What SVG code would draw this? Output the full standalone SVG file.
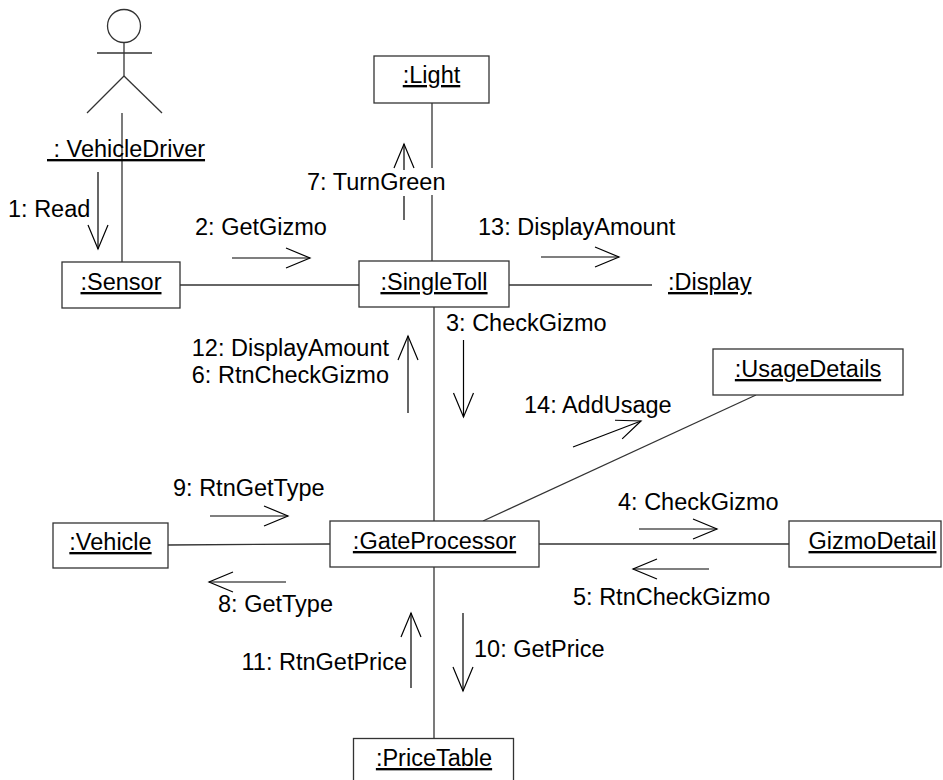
<svg xmlns="http://www.w3.org/2000/svg" width="943" height="780" viewBox="0 0 943 780">
<style>
text{font-family:"Liberation Sans",Arial,sans-serif;font-size:23.5px;fill:#000}
.u{text-decoration:underline}
.box{fill:#fff;stroke:#333;stroke-width:1.3}
.ln{stroke:#333;stroke-width:1.3;fill:none}
.ar{stroke:#000;stroke-width:1.2;fill:none}
.arm{stroke:#000;stroke-width:1.2;fill:none;marker-end:url(#open)}
</style>
<defs>
<marker id="open" markerUnits="userSpaceOnUse" markerWidth="28" markerHeight="24" refX="24" refY="10" orient="auto" overflow="visible">
<path d="M0,0 L24,10 L0,20" fill="none" stroke="#000" stroke-width="1.2"/>
</marker>
</defs>
<rect width="943" height="780" fill="#fff"/>

<g id="connectors">
<line class="ln" x1="122" y1="113" x2="122" y2="262"/>
<line class="ln" x1="180" y1="285" x2="359" y2="285"/>
<line class="ln" x1="432" y1="103" x2="432" y2="168"/>
<line class="ln" x1="432" y1="195" x2="432" y2="261"/>
<line class="ln" x1="509" y1="285" x2="652" y2="285"/>
<line class="ln" x1="434" y1="307" x2="434" y2="521"/>
<line class="ln" x1="168" y1="545" x2="330" y2="544"/>
<line class="ln" x1="756" y1="395" x2="483" y2="521"/>
<line class="ln" x1="539" y1="544" x2="789" y2="544"/>
<line class="ln" x1="434" y1="567" x2="434" y2="738"/>
</g>

<g id="actor-VehicleDriver">
<circle cx="124" cy="26" r="16.5" fill="none" stroke="#333" stroke-width="1.3"/>
<line class="ln" x1="124" y1="42.5" x2="124" y2="76"/>
<line class="ln" x1="97" y1="53" x2="152" y2="53"/>
<line class="ln" x1="124" y1="76" x2="87" y2="113"/>
<line class="ln" x1="124" y1="76" x2="162" y2="113"/>
<text x="47" y="157" class="u" xml:space="preserve" style="white-space:pre"> : VehicleDriver</text>
</g>

<g id="node-Sensor">
<rect class="box" x="62" y="262" width="118" height="46"/>
<text x="121" y="290" class="u" text-anchor="middle">:Sensor</text>
</g>

<g id="node-Light">
<rect class="box" x="374" y="56" width="115" height="47"/>
<text x="431.5" y="83" class="u" text-anchor="middle">:Light</text>
</g>

<g id="node-SingleToll">
<rect class="box" x="359" y="261" width="150" height="46"/>
<text x="434" y="290" class="u" text-anchor="middle">:SingleToll</text>
</g>

<g id="node-Display">
<text x="668" y="290" class="u">:Display</text>
</g>

<g id="node-UsageDetails">
<rect class="box" x="713" y="349" width="190" height="46"/>
<text x="808" y="377" class="u" text-anchor="middle">:UsageDetails</text>
</g>

<g id="node-Vehicle">
<rect class="box" x="53" y="523" width="115" height="45"/>
<text x="110.5" y="550" class="u" text-anchor="middle">:Vehicle</text>
</g>

<g id="node-GateProcessor">
<rect class="box" x="330" y="521" width="209" height="46"/>
<text x="434.5" y="549" class="u" text-anchor="middle">:GateProcessor</text>
</g>

<g id="node-GizmoDetail">
<rect class="box" x="789" y="521" width="152" height="46"/>
<text x="872.5" y="549" class="u" text-anchor="middle">GizmoDetail</text>
</g>

<g id="node-PriceTable">
<rect class="box" x="353.5" y="738.5" width="160" height="50"/>
<text x="434" y="766" class="u" text-anchor="middle">:PriceTable</text>
</g>

<g id="messages">
<text x="8" y="217">1: Read</text>
<line class="arm" x1="98" y1="172" x2="98" y2="249"/>

<text x="195" y="235">2: GetGizmo</text>
<line class="arm" x1="232" y1="258" x2="310" y2="258"/>

<text x="307" y="190">7: TurnGreen</text>
<line class="ar" x1="404" y1="220" x2="404" y2="196"/>
<line class="arm" x1="404" y1="170" x2="404" y2="144"/>

<text x="478" y="235">13: DisplayAmount</text>
<line class="arm" x1="541" y1="257" x2="619" y2="257"/>

<text x="446" y="331">3: CheckGizmo</text>
<line class="arm" x1="463.5" y1="340" x2="463.5" y2="417"/>

<text x="389" y="356" text-anchor="end">12: DisplayAmount</text>
<text x="389" y="383" text-anchor="end">6: RtnCheckGizmo</text>
<line class="arm" x1="408" y1="413" x2="408" y2="336"/>

<text x="524" y="413">14: AddUsage</text>
<line class="arm" x1="573" y1="447" x2="641" y2="421"/>

<text x="173" y="496">9: RtnGetType</text>
<line class="arm" x1="210" y1="516" x2="288" y2="516"/>

<text x="218" y="612">8: GetType</text>
<line class="arm" x1="286" y1="582" x2="209" y2="582"/>

<text x="618" y="510">4: CheckGizmo</text>
<line class="arm" x1="639" y1="529" x2="717" y2="529"/>

<text x="573" y="605">5: RtnCheckGizmo</text>
<line class="arm" x1="709" y1="569" x2="633" y2="569"/>

<text x="407" y="670" text-anchor="end">11: RtnGetPrice</text>
<line class="arm" x1="411" y1="688" x2="411" y2="613"/>

<text x="474" y="657">10: GetPrice</text>
<line class="arm" x1="463" y1="613" x2="463" y2="691"/>
</g>
</svg>
